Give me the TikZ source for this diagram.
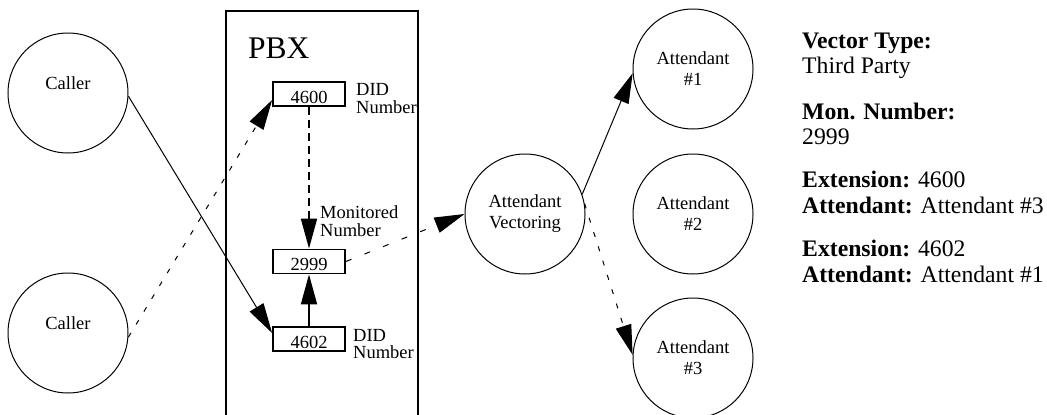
\documentclass[tikz,border=0pt]{standalone}
\usepackage{fontspec}
\setmainfont{Liberation Serif}
\usetikzlibrary{arrows.meta}
\newcommand\labfont{\fontsize{18.5}{21}\selectfont}
\newcommand\rtfont{\fontsize{23.7}{26}\selectfont}
\newcommand\pbxfont{\fontsize{31.5}{36}\selectfont}
\tikzset{
  circ/.style={circle, draw, line width=1pt, minimum size=120pt, inner sep=0pt, font=\labfont, align=center},
  numbox/.style={draw, line width=1.8pt, minimum width=72pt, minimum height=24pt, inner sep=0pt, text height=18pt, text depth=0pt, font=\labfont},
  lbl/.style={anchor=base west, inner sep=0pt, font=\labfont},
  rtxt/.style={anchor=base west, inner sep=0pt, font=\rtfont},
  thinline/.style={line width=1pt},
  thickline/.style={line width=1.8pt},
  head/.style={-{Triangle[length=30pt,width=16pt]}},
  sparse/.style={dash pattern=on 5pt off 10pt},
  loose/.style={dash pattern=on 6pt off 14pt},
  dense/.style={dash pattern=on 8pt off 5pt},
}
\begin{document}
\begin{tikzpicture}[x=1pt,y=-1pt]
\useasboundingbox (0,0) rectangle (1047,415);
\clip (0,0) rectangle (1047,415);
% PBX frame
\node[draw, line width=1.8pt, minimum width=192pt, minimum height=440pt, inner sep=0pt, anchor=north west] (pbx) at (225,10) {};
\node[anchor=base west, inner sep=0pt, font=\pbxfont] (pbxt) at (248,58) {PBX};
% callers
\node[circ, label={[font=\labfont, yshift=10pt]center:Caller}] (c1) at (68,93) {};
\node[circ, label={[font=\labfont, yshift=10pt]center:Caller}] (c2) at (68,333) {};
% number boxes
\node[numbox] (b1) at (309,94) {4600};
\node[numbox] (b3) at (309,261.5) {2999};
\node[numbox] (b2) at (309,339) {4602};
\node[lbl] (d1a) at (356,95) {DID};
\node[lbl] (d1b) at (356,113) {Number};
\node[lbl] (m1a) at (320,218) {Monitored};
\node[lbl] (m1b) at (320,236.5) {Number};
\node[lbl] (d2a) at (353,341) {DID};
\node[lbl] (d2b) at (353,358) {Number};
% attendant circles
\node[circ] (av) at (525,214) {Attendant\\Vectoring};
\node[circ] (a1) at (693,69) {Attendant\\\#1};
\node[circ] (a2) at (693,214) {Attendant\\\#2};
\node[circ] (a3) at (693,358) {Attendant\\\#3};
% right-hand text
\node[rtxt] (t1) at (802,48) {\textbf{Vector Type:}};
\node[rtxt] (t2) at (802,73.5) {Third Party};
\node[rtxt] (t3) at (802,119) {\textbf{Mon. Number:}};
\node[rtxt] (t4) at (802,144) {2999};
\node[rtxt] (t5) at (802,187) {\textbf{Extension:} 4600};
\node[rtxt] (t6) at (802,213) {\textbf{Attendant:} Attendant \#3};
\node[rtxt] (t7) at (802,256) {\textbf{Extension:} 4602};
\node[rtxt] (t8) at (802,282) {\textbf{Attendant:} Attendant \#1};
% connectors
\draw[thinline, head] (c1.-3) -- ([yshift=6pt]b2.west);
\draw[thinline, sparse, head] (c2.-4) -- ([yshift=-6pt]b1.west);
\draw[thickline, dense, head] (b1.south) -- (b3.north);
\draw[thickline, head] (b2.north) -- (b3.south);
\draw[thinline, loose, head] (b3.east) -- (av.west);
\draw[thinline, head] (av.19) -- (a1.184);
\draw[thinline, sparse, head] (av.10) -- (a3.177);
\end{tikzpicture}
\end{document}
